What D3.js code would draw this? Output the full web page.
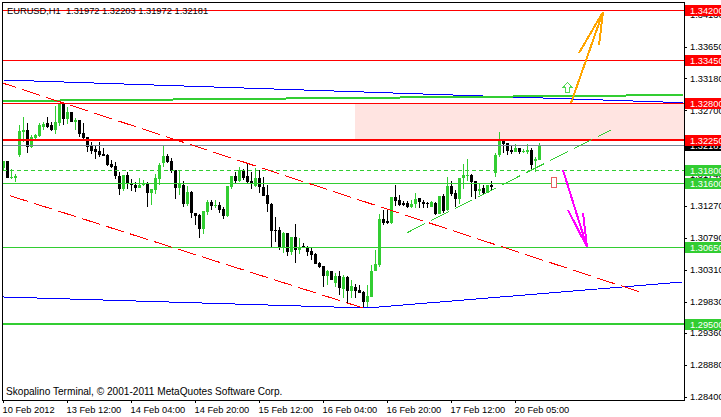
<!DOCTYPE html>
<html><head><meta charset="utf-8">
<script src="https://cdn.jsdelivr.net/npm/d3@7/dist/d3.min.js"></script>
<style>
html,body{margin:0;padding:0;background:#fff;overflow:hidden}
svg{display:block}
text{font-family:"Liberation Sans",Arial,sans-serif;font-size:9.3px;fill:#000;white-space:pre}
</style></head><body>
<script>
const opens=[1.3183,1.31935,1.3168,1.3168,1.32025,1.3237,1.324,1.32145,1.3228,1.3231,1.32445,1.32505,1.32475,1.324,1.32505,1.32805,1.32565,1.3267,1.3252,1.3255,1.32355,1.32295,1.3216,1.32115,1.32085,1.3204,1.32025,1.3189,1.3186,1.3171,1.31515,1.31725,1.3159,1.31575,1.3153,1.31575,1.31605,1.31455,1.315,1.31665,1.31905,1.3201,1.31935,1.318,1.3153,1.31575,1.3129,1.3147,1.31155,1.31125,1.30915,1.3117,1.3132,1.3126,1.31275,1.31215,1.3111,1.31545,1.3171,1.31635,1.318,1.3171,1.31635,1.3156,1.3168,1.31545,1.31425,1.3129,1.309,1.309,1.30645,1.30855,1.3057,1.30795,1.306,1.3066,1.30645,1.30585,1.3054,1.30405,1.3036,1.3021,1.30285,1.30105,1.3021,1.30015,1.30195,1.29985,1.30045,1.3,1.2997,1.2982,1.29895,1.30285,1.30375,1.31065,1.31035,1.31005,1.31395,1.3135,1.31305,1.31305,1.31245,1.3129,1.3138,1.3132,1.31305,1.31245,1.31305,1.3114,1.3141,1.312,1.3156,1.31455,1.31365,1.3168,1.3171,1.31725,1.31635,1.31485,1.3153,1.31455,1.31575,1.31755,1.32025,1.32235,1.32205,1.321,1.3207,1.3213,1.3207,1.3207,1.321,1.31935,1.3195];
const highs=[1.31935,1.31935,1.31815,1.3174,1.32475,1.32595,1.32505,1.32325,1.3234,1.32505,1.3252,1.32595,1.3252,1.3276,1.32805,1.3282,1.32745,1.3267,1.3258,1.3255,1.32505,1.32295,1.3222,1.3216,1.3222,1.3213,1.3204,1.3195,1.3192,1.3177,1.31725,1.3177,1.31665,1.3162,1.3168,1.3165,1.3162,1.31515,1.3174,1.31905,1.3216,1.3204,1.3198,1.318,1.318,1.31635,1.3156,1.31485,1.31155,1.3114,1.31185,1.3135,1.3135,1.3135,1.3132,1.31245,1.3156,1.3171,1.3177,1.31845,1.31815,1.31905,1.3177,1.3183,1.318,1.31695,1.31575,1.31305,1.31095,1.30945,1.3087,1.30855,1.30795,1.3099,1.3078,1.30705,1.3066,1.30645,1.30555,1.3042,1.3036,1.303,1.30285,1.30255,1.30285,1.30225,1.3021,1.3015,1.3009,1.30075,1.29985,1.30075,1.30375,1.306,1.3114,1.312,1.312,1.31395,1.31575,1.31425,1.31335,1.31335,1.3135,1.31455,1.3138,1.3135,1.3132,1.31335,1.3132,1.3141,1.3144,1.31695,1.31635,1.315,1.3168,1.3189,1.31965,1.3174,1.31635,1.3159,1.31575,1.31575,1.31635,1.32055,1.3237,1.3225,1.32205,1.3216,1.3219,1.3213,1.32115,1.3219,1.3213,1.31995,1.32205];
const lows=[1.318,1.3168,1.31665,1.3162,1.31995,1.3222,1.32055,1.3213,1.32265,1.32295,1.324,1.3243,1.32385,1.3234,1.3246,1.32475,1.3249,1.3252,1.324,1.32295,1.3225,1.3207,1.3204,1.31965,1.31995,1.3201,1.3186,1.3183,1.31665,1.31425,1.31485,1.31515,1.31485,1.3147,1.3153,1.3156,1.31245,1.31275,1.3144,1.31575,1.31845,1.31905,1.31755,1.31365,1.31425,1.31245,1.3126,1.3108,1.30975,1.3078,1.3084,1.31125,1.312,1.3123,1.31155,1.31065,1.31095,1.31515,1.3159,1.3162,1.3165,1.31605,1.31515,1.31545,1.31455,1.3141,1.3117,1.30645,1.3072,1.306,1.30555,1.3051,1.30525,1.30405,1.3054,1.3063,1.3051,1.3045,1.3039,1.3033,1.30045,1.30075,1.3015,1.30045,1.29925,1.2988,1.29805,1.2988,1.2988,1.29955,1.29745,1.29745,1.29895,1.30285,1.30345,1.30975,1.3099,1.3099,1.3126,1.3126,1.3126,1.3123,1.3123,1.3123,1.3123,1.3123,1.3123,1.31245,1.31125,1.3114,1.31155,1.31185,1.3141,1.31245,1.3129,1.31515,1.31635,1.31395,1.31365,1.31425,1.31425,1.31455,1.315,1.31695,1.31995,1.32055,1.32025,1.3204,1.3207,1.3204,1.32055,1.3204,1.318,1.3177,1.3195];
const closes=[1.31935,1.3168,1.31695,1.3171,1.32385,1.324,1.32145,1.32295,1.32325,1.32475,1.3249,1.32445,1.324,1.3252,1.32805,1.32565,1.3267,1.3252,1.3255,1.3234,1.3228,1.32145,1.32085,1.3207,1.32025,1.3201,1.31875,1.31845,1.3171,1.31515,1.31725,1.3159,1.31575,1.3153,1.31575,1.31605,1.31455,1.31515,1.3168,1.31875,1.3201,1.3192,1.31785,1.3153,1.3159,1.3129,1.3147,1.31155,1.3111,1.30915,1.31185,1.3132,1.3126,1.31275,1.312,1.3111,1.3156,1.3171,1.31635,1.318,1.3168,1.3162,1.3159,1.3168,1.31545,1.3141,1.3129,1.30885,1.30885,1.30645,1.30855,1.3057,1.30795,1.306,1.30645,1.30645,1.3057,1.30525,1.3039,1.30345,1.3021,1.30285,1.3015,1.3021,1.3003,1.30195,1.29985,1.3006,1.29985,1.29955,1.2982,1.2991,1.30285,1.3039,1.31065,1.31005,1.31005,1.31395,1.31335,1.31275,1.31275,1.31245,1.3129,1.31365,1.3132,1.3129,1.3129,1.3132,1.3114,1.3141,1.31185,1.3156,1.3144,1.31365,1.3168,1.31725,1.31725,1.3162,1.31485,1.31515,1.31455,1.31575,1.31545,1.32025,1.32235,1.3219,1.32085,1.3207,1.3213,1.3207,1.32085,1.321,1.31875,1.31965,1.32181];

const priceTicks=[1.3413,1.3365,1.3318,1.327,1.3222,1.3174,1.3127,1.3079,1.3031,1.2983,1.2936,1.2888,1.284];
const timeTickBars=[0,16,32,48,64,80,96,112,128];
const timeTickLabels=["10 Feb 2012","13 Feb 12:00","14 Feb 04:00","14 Feb 20:00","15 Feb 12:00","16 Feb 04:00","16 Feb 20:00","17 Feb 12:00","20 Feb 05:00"];

const redLevels=[1.342,1.3345,1.328];
const heavyRedLevels=[1.3225];
const greenLevels=[1.316,1.3065];
const heavyGreenLevels=[1.295];
const dashedGreenLevels=[1.318];
const bidPrice=1.32181;

const zoneBars=[87.875,170];
const zonePrices=[1.328,1.3225];

const upperChannelBars=[-1.375,158.875], upperChannelPrices=[1.33128,1.29978];
const lowerChannelBars=[1.625,89.875], lowerChannelPrices=[1.31417,1.29734];
const blueTopBars=[0.125,169.875], blueTopPrices=[1.33151,1.32811];
const blueLowBars=[-0.125,90.875,169.875], blueLowPrices=[1.29899,1.29734,1.30124];
const greenTopBars=[-0.125,169.875], greenTopPrices=[1.32836,1.32926];
const supportBars=[100.875,151.875], supportPrices=[1.30862,1.32402];

const orangeBars=[141.875,149.875,143.875,149.875,148.875], orangePrices=[1.32806,1.3417,1.33556,1.3417,1.33675];
const magentaBars=[139.875,145.875,141.125,145.875,144.875], magentaPrices=[1.318,1.30648,1.31203,1.30648,1.31158];

const W=721,H=417,right=684,bottom=400;
const x=d3.scaleLinear().domain([-0.875,169.875]).range([0,683]);
const y=d3.scaleLinear().domain([1.284,1.342]).range([397,10]);
const svg=d3.select("body").append("svg").attr("width",W).attr("height",H);
svg.append("defs").append("clipPath").attr("id","plot").append("rect").attr("x",3).attr("y",3).attr("width",right-3).attr("height",bottom-3);
const plot=svg.append("g").attr("clip-path","url(#plot)").attr("shape-rendering","crispEdges");

plot.append("rect").attr("x",x(zoneBars[0])).attr("width",x(zoneBars[1])-x(zoneBars[0]))
  .attr("y",y(zonePrices[0])).attr("height",y(zonePrices[1])-y(zonePrices[0])).attr("fill","#ffe4e1");

const LIME="#32cd32";
const candles=opens.map((o,i)=>({i,o,h:highs[i],l:lows[i],c:closes[i]}));
const cg=plot.append("g").selectAll("g").data(candles).join("g");
cg.append("rect").attr("x",d=>x(d.i)-0.5).attr("width",1)
  .attr("y",d=>Math.round(y(d.h))).attr("height",d=>Math.max(1,Math.round(y(d.l))-Math.round(y(d.h))))
  .attr("fill",d=>d.c>=d.o?LIME:"#000");
cg.append("rect").attr("x",d=>x(d.i)-1.5).attr("width",3)
  .attr("y",d=>Math.round(y(Math.max(d.o,d.c)))).attr("height",d=>Math.max(1,Math.round(y(Math.min(d.o,d.c)))-Math.round(y(Math.max(d.o,d.c)))))
  .attr("fill",d=>d.c>=d.o?LIME:"#000");

function hline(p,color,w,dash){
  plot.append("line").attr("x1",3).attr("x2",right).attr("y1",Math.round(y(p))+(w%2?0.5:0)).attr("y2",Math.round(y(p))+(w%2?0.5:0))
    .attr("stroke",color).attr("stroke-width",w).attr("stroke-dasharray",dash||null);
}
const line=d3.line().x(d=>x(d[0])).y(d=>y(d[1]));
function poly(bars,prices,color,w,dash){
  plot.append("path").attr("d",line(bars.map((b,i)=>[b,prices[i]]))).attr("fill","none")
    .attr("stroke",color).attr("stroke-width",w).attr("stroke-dasharray",dash||null);
}
hline(bidPrice,"#778899",1);
redLevels.forEach(p=>hline(p,"#ff0000",1));
heavyRedLevels.forEach(p=>hline(p,"#ff0000",2));
greenLevels.forEach(p=>hline(p,LIME,1));
heavyGreenLevels.forEach(p=>hline(p,LIME,2));
dashedGreenLevels.forEach(p=>hline(p,LIME,1,"4,3"));

poly(blueTopBars,blueTopPrices,"#0000ff",1);
poly(blueLowBars,blueLowPrices,"#0000ff",1);
poly(greenTopBars,greenTopPrices,LIME,2);
poly(upperChannelBars,upperChannelPrices,"#ff0000",1,"18.9,6.3");
poly(lowerChannelBars,lowerChannelPrices,"#ff0000",1,"18.9,6.3");
poly(supportBars,supportPrices,LIME,1,"20,6.7");
poly(orangeBars,orangePrices,"#ffa500",2);
poly(magentaBars,magentaPrices,"#ff00ff",2);

// small arrow markers
const mk=svg.append("g").attr("fill","#fff").attr("shape-rendering","crispEdges");
mk.append("path").attr("transform",`translate(${x(140.875)},${y(1.33121)})`)
  .attr("d","M0.5,0.5 L5,5.5 L2.5,5.5 L2.5,10.5 L-1.5,10.5 L-1.5,5.5 L-4,5.5 Z").attr("stroke","#4fd84f");
mk.append("rect").attr("x",Math.round(x(137.5))-2.5).attr("y",Math.round(y(1.31697))+0.5).attr("width",5).attr("height",10).attr("stroke","#e86060");

// frame
svg.append("path").attr("d",`M2.5,${bottom+0.5}V2.5H${right+0.5}V${bottom+0.5}H2.5`).attr("fill","none").attr("stroke","#000").attr("shape-rendering","crispEdges");

// axes
const ya=d3.axisRight(y).tickValues(priceTicks).tickFormat(d3.format(".5f")).tickSize(3).tickPadding(3);
const gy=svg.append("g").attr("transform",`translate(${right},0)`).call(ya);
gy.select(".domain").remove();
gy.selectAll("text").attr("font-family",null).attr("font-size",null);

const xa=d3.axisBottom(x).tickValues(timeTickBars).tickFormat((d,i)=>timeTickLabels[i]).tickSize(3);
const gx=svg.append("g").attr("transform",`translate(-0.5,${bottom})`).call(xa);
gx.select(".domain").remove();
gx.attr("font-size",null).attr("font-family",null);
gx.selectAll("text").attr("text-anchor","start").attr("x",-1).attr("y",13).attr("dy",0);
gy.attr("font-size",null).attr("font-family",null);
svg.selectAll(".tick line").attr("shape-rendering","crispEdges");

// price tags
function tag(p,bg){
  const g=svg.append("g").attr("transform",`translate(685,${Math.round(y(p))-5})`);
  g.append("rect").attr("width",36).attr("height",11).attr("fill",bg);
  g.append("text").attr("x",5).attr("y",9).style("fill","#fff").text(d3.format(".5f")(p));
}
tag(bidPrice,"#000");
[...redLevels,...heavyRedLevels].forEach(p=>tag(p,"#ff0000"));
[...dashedGreenLevels,...greenLevels,...heavyGreenLevels].forEach(p=>tag(p,LIME));

svg.append("text").attr("x",7).attr("y",14).text("EURUSD,H1  1.31972 1.32203 1.31972 1.32181");
svg.append("text").attr("x",6).attr("y",395).style("font-size","10.1px").text("Skopalino Terminal, © 2001-2011 MetaQuotes Software Corp.");
</script>
</body></html>
